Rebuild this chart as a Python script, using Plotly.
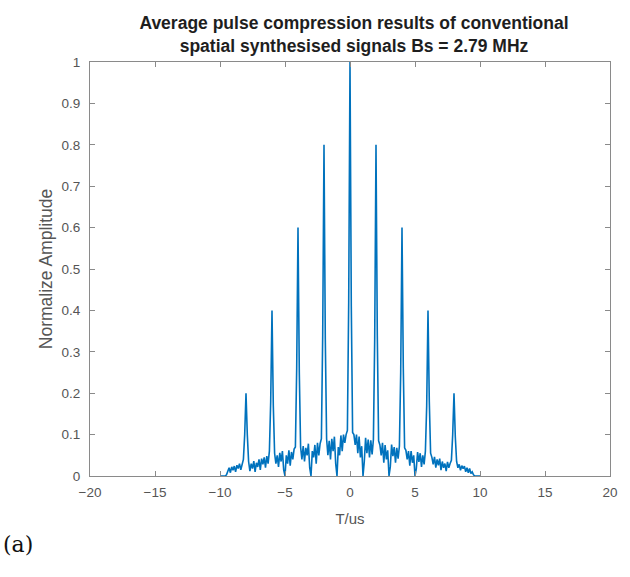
import numpy as np
import plotly.graph_objects as go

# Time grid (us), 0.1 us spacing from -10 to 10
t_us = np.round(np.arange(-100, 101) / 10.0, 1)

# Averaged, normalised pulse-compression output, one row per 1 us
amplitude = [
    0, 0, 0, 0, 0, 0.003, 0.012, 0.02, 0.008, 0.022,                 # -10.0 .. -9.1
    0.014, 0.024, 0.01, 0.026, 0.018, 0.03, 0.015, 0.028, 0.04, 0.1,  # -9.0 .. -8.1
    0.2, 0.1, 0.035, 0.012, 0.03, 0.018, 0.036, 0.01, 0.032, 0.022,   # -8.0 .. -7.1
    0.04, 0.015, 0.042, 0.028, 0.045, 0.02, 0.048, 0.03, 0.06, 0.18,  # -7.0 .. -6.1
    0.4, 0.17, 0.055, 0.03, 0.05, 0.022, 0.056, 0.035, 0.06, 0.015,   # -6.0 .. -5.1
    0.0, 0.05, 0.03, 0.062, 0.025, 0.058, 0.04, 0.065, 0.07, 0.26,    # -5.0 .. -4.1
    0.6, 0.25, 0.07, 0.04, 0.072, 0.035, 0.068, 0.05, 0.078, 0.02,    # -4.0 .. -3.1
    0.0, 0.06, 0.045, 0.075, 0.03, 0.08, 0.05, 0.078, 0.09, 0.34,     # -3.0 .. -2.1
    0.8, 0.33, 0.09, 0.05, 0.085, 0.04, 0.09, 0.06, 0.095, 0.03,      # -2.0 .. -1.1
    0.0, 0.07, 0.05, 0.098, 0.06, 0.1, 0.08, 0.1, 0.11, 0.42,         # -1.0 .. -0.1
    1.0,                                                              #  0.0
    0.41, 0.105, 0.1, 0.075, 0.1, 0.055, 0.095, 0.045, 0.072, 0.0,    #  0.1 .. 1.0
    0.035, 0.092, 0.055, 0.088, 0.045, 0.086, 0.052, 0.088, 0.33, 0.8,  # 1.1 .. 2.0
    0.34, 0.085, 0.075, 0.05, 0.08, 0.032, 0.075, 0.04, 0.062, 0.0,   #  2.1 .. 3.0
    0.022, 0.076, 0.048, 0.07, 0.032, 0.068, 0.042, 0.072, 0.25, 0.6,  # 3.1 .. 4.0
    0.26, 0.068, 0.062, 0.04, 0.06, 0.025, 0.06, 0.032, 0.05, 0.0,    #  4.1 .. 5.0
    0.018, 0.058, 0.034, 0.055, 0.022, 0.05, 0.028, 0.06, 0.17, 0.4,  #  5.1 .. 6.0
    0.18, 0.055, 0.045, 0.028, 0.046, 0.02, 0.04, 0.026, 0.042, 0.014,  # 6.1 .. 7.0
    0.035, 0.02, 0.03, 0.012, 0.034, 0.02, 0.03, 0.038, 0.1, 0.2,     #  7.1 .. 8.0
    0.095, 0.035, 0.02, 0.028, 0.014, 0.025, 0.018, 0.024, 0.01, 0.02,  # 8.1 .. 9.0
    0.008, 0.018, 0.006, 0.01, 0.003, 0, 0, 0, 0, 0,                  #  9.1 .. 10.0
]

x_ticks = [-20, -15, -10, -5, 0, 5, 10, 15, 20]
y_ticks = [0, 0.1, 0.2, 0.3, 0.4, 0.5, 0.6, 0.7, 0.8, 0.9, 1]
y_tick_text = ["0", "0.1", "0.2", "0.3", "0.4", "0.5", "0.6", "0.7", "0.8", "0.9", "1"]

AXIS_GREY = "#8a8a8a"
TEXT_GREY = "#555555"
FONT = "Liberation Sans, Arial, sans-serif"

fig = go.Figure()
fig.add_trace(go.Scatter(
    x=t_us, y=amplitude, mode="lines",
    line=dict(color="#0072BD", width=1.6),
    showlegend=False,
))

axis_common = dict(
    showgrid=False, zeroline=False,
    showline=True, linecolor=AXIS_GREY, linewidth=1, mirror="allticks",
    ticks="inside", ticklen=5, tickcolor=AXIS_GREY, tickwidth=1,
    tickfont=dict(family=FONT, size=13.5, color=TEXT_GREY),
)

fig.update_layout(
    width=630, height=577,
    margin=dict(l=90, r=12, t=62, b=101),
    paper_bgcolor="white", plot_bgcolor="white",
    title=dict(
        text="<b>Average pulse compression results of conventional<br>spatial synthesised signals Bs = 2.79 MHz</b>",
        x=(90 + 264) / 630, xanchor="center", y=1 - 29 / 577, yanchor="middle",
        font=dict(family=FONT, size=17.5, color="#1e1e1e"),
    ),
    xaxis=dict(
        range=[-20, 20], tickvals=x_ticks, ticklabelstandoff=4,
        title=dict(text="T/us", font=dict(family=FONT, size=15, color=TEXT_GREY), standoff=14),
        **axis_common,
    ),
    yaxis=dict(
        range=[0, 1], tickvals=y_ticks, ticktext=y_tick_text, ticklabelstandoff=6,
        title=dict(text="Normalize Amplitude", font=dict(family=FONT, size=17.5, color=TEXT_GREY), standoff=4),
        **axis_common,
    ),
    annotations=[dict(
        text="(a)", xref="paper", yref="paper",
        x=-90 / 528, y=(476 - 544) / 414, xanchor="left", yanchor="middle",
        showarrow=False,
        font=dict(family="DejaVu Serif, Liberation Serif, serif", size=22, color="#111111"),
    )],
)

fig.write_html("out.html")
